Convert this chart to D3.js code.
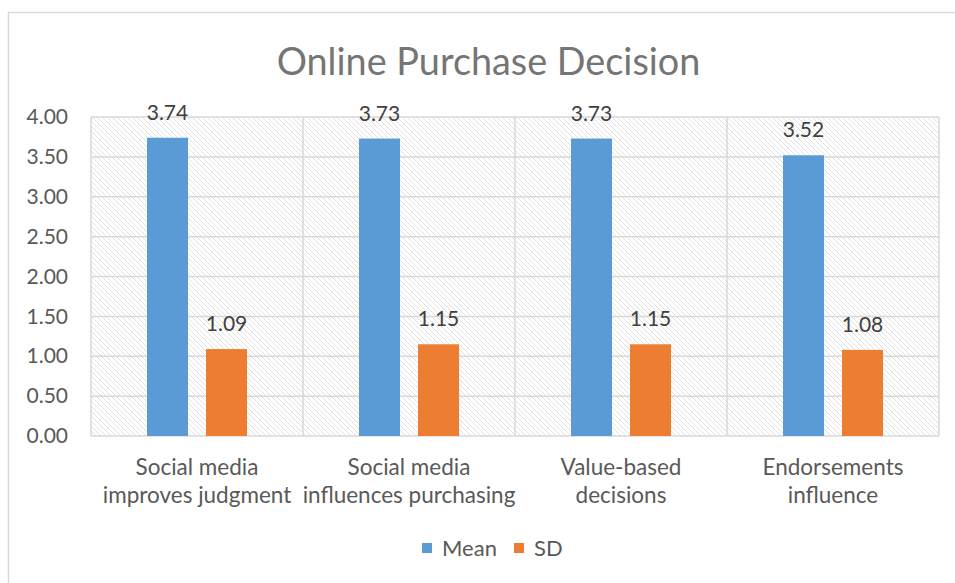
<!DOCTYPE html>
<html><head><meta charset="utf-8">
<script src="https://cdn.jsdelivr.net/npm/d3@7"></script>
<style>body{margin:0;background:#fff}svg{display:block}</style>
</head><body>
<svg id="c" width="955" height="583"></svg>
<script>
const categories = [["Social media","improves judgment"],["Social media","influences purchasing"],["Value-based","decisions"],["Endorsements","influence"]];
const seriesNames = ["Mean","SD"];
const meanValues = [3.74, 3.73, 3.73, 3.52];
const sdValues = [1.09, 1.15, 1.15, 1.08];
const yTicks = [0,0.5,1,1.5,2,2.5,3,3.5,4];
const colors = ["#5b9bd5","#ed7d31"];
const FONT = "Lato, 'Open Sans', sans-serif";

const svg = d3.select("#c");
const defs = svg.append("defs");
const pat = defs.append("pattern").attr("id","hatch").attr("patternUnits","userSpaceOnUse")
  .attr("width",5).attr("height",5);
pat.append("rect").attr("width",5).attr("height",5).attr("fill","#fff");
pat.append("path").attr("d","M-1,-1 L6,6 M-1,4 L1,6 M4,-1 L6,1").attr("stroke","#dcdcdc").attr("stroke-width",0.9);

// outer border
svg.append("rect").attr("x",8.5).attr("y",12.5).attr("width",960).attr("height",600)
  .attr("fill","#fff").attr("stroke","#d9d9d9").attr("stroke-width",1.5);

const L=91, R=939, T=117, B=436;
const x = d3.scaleBand().domain(d3.range(categories.length)).range([L,R]).padding(0);
const y = d3.scaleLinear().domain([0,4]).range([B,T]);
const xs = d3.scaleBand().domain(seriesNames).range([0,x.bandwidth()]).paddingInner(0.305).paddingOuter(0.949);

svg.append("rect").attr("x",L).attr("y",T).attr("width",R-L).attr("height",B-T).attr("fill","url(#hatch)");

// gridlines
svg.append("g").selectAll("line").data(yTicks).join("line")
  .attr("x1",L).attr("x2",R).attr("y1",d=>y(d)).attr("y2",d=>y(d))
  .attr("stroke","#d9d9d9").attr("stroke-width",1.5);
svg.append("g").selectAll("line").data(d3.range(categories.length+1)).join("line")
  .attr("x1",d=>L+d*x.bandwidth()).attr("x2",d=>L+d*x.bandwidth()).attr("y1",T).attr("y2",B)
  .attr("stroke","#d9d9d9").attr("stroke-width",1.5);

// y axis labels
const yAxis = d3.axisLeft(y).tickValues(yTicks).tickFormat(d3.format(".2f")).tickSize(0).tickPadding(23);
const ya = svg.append("g").attr("transform",`translate(${L},0)`).call(yAxis);
ya.select(".domain").remove();
ya.selectAll("text").attr("font-family",FONT).attr("font-size",21).attr("fill","#595959");

// bars
const data = [meanValues, sdValues];
seriesNames.forEach((s,si)=>{
  const g = svg.append("g");
  g.selectAll("rect").data(data[si]).join("rect")
    .attr("x",(d,i)=>x(i)+xs(s)).attr("width",xs.bandwidth())
    .attr("y",d=>y(d)).attr("height",d=>B-y(d)).attr("fill",colors[si]);
  g.selectAll("text").data(data[si]).join("text")
    .attr("x",(d,i)=>x(i)+xs(s)+xs.bandwidth()/2).attr("y",d=>y(d)-18)
    .attr("text-anchor","middle").attr("font-family",FONT).attr("font-size",21).attr("fill","#404040")
    .text(d=>d.toFixed(2));
});

// category labels
const cl = svg.append("g").selectAll("text").data(categories).join("text")
  .attr("x",(d,i)=>x(i)+x.bandwidth()/2).attr("y",475)
  .attr("text-anchor","middle").attr("font-family",FONT).attr("font-size",22.5).attr("fill","#595959");
cl.selectAll("tspan").data(d=>d).join("tspan")
  .attr("x",function(){return this.parentNode.getAttribute("x");})
  .attr("dy",(d,i)=>i===0?0:28).text(d=>d);

// title
svg.append("text").attr("x",488.5).attr("y",75).attr("text-anchor","middle")
  .attr("font-family",FONT).attr("font-size",37.8).attr("fill","#757575").text("Online Purchase Decision");

// legend
const lg = svg.append("g");
const legX = [422, 514];
seriesNames.forEach((s,i)=>{
  lg.append("rect").attr("x",legX[i]).attr("y",543).attr("width",10).attr("height",10).attr("fill",colors[i]);
  lg.append("text").attr("x",legX[i]+20).attr("y",556).attr("font-family",FONT).attr("font-size",22)
    .attr("fill","#595959").text(s);
});
</script>
</body></html>
